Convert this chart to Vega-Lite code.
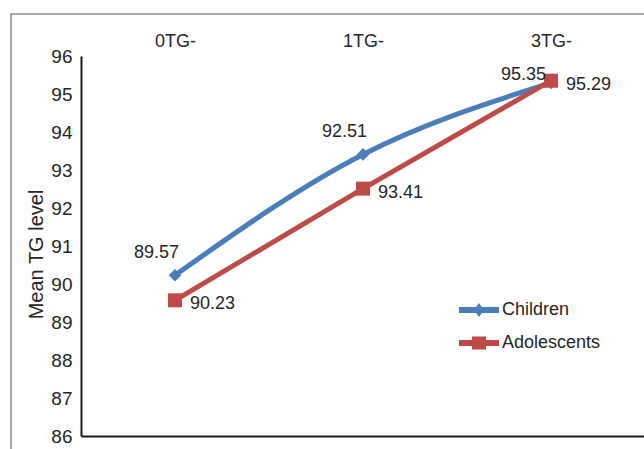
{
  "$schema": "https://vega.github.io/schema/vega-lite/v6.json",
  "width": 640,
  "height": 440,
  "autosize": "none",
  "padding": {"left": 11, "top": 14, "right": 0, "bottom": 0},
  "background": "white",
  "config": {
    "view": {"stroke": "#8c8c8c", "strokeWidth": 1.5},
    "font": "Liberation Sans",
    "text": {"font": "Liberation Sans", "fontSize": 18, "color": "#262626"}
  },
  "data": {
    "values": [
      {"group": "0TG-", "series": "Children", "value": 90.23, "label": "89.57"},
      {"group": "1TG-", "series": "Children", "value": 93.41, "label": "92.51"},
      {"group": "3TG-", "series": "Children", "value": 95.29, "label": "95.35"},
      {"group": "0TG-", "series": "Adolescents", "value": 89.57, "label": "90.23"},
      {"group": "1TG-", "series": "Adolescents", "value": 92.51, "label": "93.41"},
      {"group": "3TG-", "series": "Adolescents", "value": 95.35, "label": "95.29"}
    ]
  },
  "resolve": {"axis": {"x": "independent", "y": "independent"}},
  "layer": [
    {
      "mark": {"type": "line", "strokeWidth": 5, "interpolate": "monotone", "strokeCap": "round"},
      "transform": [{"filter": "datum.series === 'Children'"}],
      "encoding": {
        "x": {"field": "group", "type": "nominal", "sort": ["0TG-", "1TG-", "3TG-"],
              "scale": {"type": "point", "range": [70, 634], "padding": 0.5},
              "axis": {"orient": "top", "offset": -42, "domain": false, "ticks": false, "labelPadding": 6,
                       "labelFontSize": 18, "labelColor": "#262626", "labelFont": "Liberation Sans", "title": null, "labelAngle": 0}},
        "y": {"field": "value", "type": "quantitative",
              "scale": {"domain": [86, 96], "range": [422, 42], "zero": false, "nice": false},
              "axis": {"orient": "left", "offset": -70, "values": [86, 87, 88, 89, 90, 91, 92, 93, 94, 95, 96],
                       "grid": false, "ticks": false, "domainColor": "#1a1a1a", "domainWidth": 2,
                       "labelPadding": 9, "labelFontSize": 19, "labelColor": "#262626", "labelFont": "Liberation Sans",
                       "title": "Mean TG level", "titleFontSize": 20, "titleFontWeight": "normal", "titleColor": "#262626",
                       "titleFont": "Liberation Sans", "titlePadding": 4, "titleY": 240}},
        "color": {"field": "series", "type": "nominal",
                  "scale": {"domain": ["Children", "Adolescents"], "range": ["#4a7ebb", "#be4b48"]},
                  "legend": {"orient": "none", "legendX": 459, "legendY": 287, "title": null, "padding": 0,
                             "labelFontSize": 18, "labelColor": "#262626", "labelFont": "Liberation Sans",
                             "labelOffset": 14, "rowPadding": 15, "symbolSize": 100, "symbolStrokeWidth": 0,
                             "encode": {"symbols": {"update": {
                               "shape": {"signal": "datum.value === 'Children' ? 'M-4,-0.6H4V0.6H-4Z M0,-1.4L1,0L0,1.4L-1,0Z' : 'M-4,-0.6H4V0.6H-4Z M-1.4,-1.3H1.4V1.3H-1.4Z'"},
                               "fill": {"scale": "color", "field": "value"},
                               "stroke": {"value": "transparent"},
                               "opacity": {"value": 1}
                             }}}}}
      }
    },
    {
      "mark": {"type": "point", "filled": true, "opacity": 1, "size": 160, "shape": "diamond"},
      "transform": [{"filter": "datum.series === 'Children'"}],
      "encoding": {
        "x": {"field": "group", "type": "nominal", "sort": ["0TG-", "1TG-", "3TG-"],
              "axis": {"orient": "bottom", "offset": -18, "labels": false, "ticks": false, "domainColor": "#1a1a1a", "domainWidth": 2, "title": null}},
        "y": {"field": "value", "type": "quantitative", "axis": null},
        "color": {"field": "series", "type": "nominal"}
      }
    },
    {
      "mark": {"type": "line", "strokeWidth": 5, "strokeCap": "round"},
      "transform": [{"filter": "datum.series === 'Adolescents'"}],
      "encoding": {
        "x": {"field": "group", "type": "nominal", "sort": ["0TG-", "1TG-", "3TG-"], "axis": null},
        "y": {"field": "value", "type": "quantitative", "axis": null},
        "color": {"field": "series", "type": "nominal"}
      }
    },
    {
      "mark": {"type": "point", "filled": true, "opacity": 1, "size": 196, "shape": "square"},
      "transform": [{"filter": "datum.series === 'Adolescents'"}],
      "encoding": {
        "x": {"field": "group", "type": "nominal", "sort": ["0TG-", "1TG-", "3TG-"], "axis": null},
        "y": {"field": "value", "type": "quantitative", "axis": null},
        "color": {"field": "series", "type": "nominal"}
      }
    },
    {
      "mark": {"type": "text", "align": "right", "baseline": "middle", "dx": 4, "dy": -22},
      "transform": [{"filter": "datum.series === 'Children' && datum.group !== '3TG-'"}],
      "encoding": {
        "x": {"field": "group", "type": "nominal", "sort": ["0TG-", "1TG-", "3TG-"], "axis": null},
        "y": {"field": "value", "type": "quantitative", "axis": null},
        "text": {"field": "label"}
      }
    },
    {
      "mark": {"type": "text", "align": "right", "baseline": "middle", "dx": -5, "dy": -8},
      "transform": [{"filter": "datum.series === 'Children' && datum.group === '3TG-'"}],
      "encoding": {
        "x": {"field": "group", "type": "nominal", "sort": ["0TG-", "1TG-", "3TG-"], "axis": null},
        "y": {"field": "value", "type": "quantitative", "axis": null},
        "text": {"field": "label"}
      }
    },
    {
      "mark": {"type": "text", "align": "left", "baseline": "middle", "dx": 15, "dy": 4},
      "transform": [{"filter": "datum.series === 'Adolescents'"}],
      "encoding": {
        "x": {"field": "group", "type": "nominal", "sort": ["0TG-", "1TG-", "3TG-"], "axis": null},
        "y": {"field": "value", "type": "quantitative", "axis": null},
        "text": {"field": "label"}
      }
    }
  ]
}
